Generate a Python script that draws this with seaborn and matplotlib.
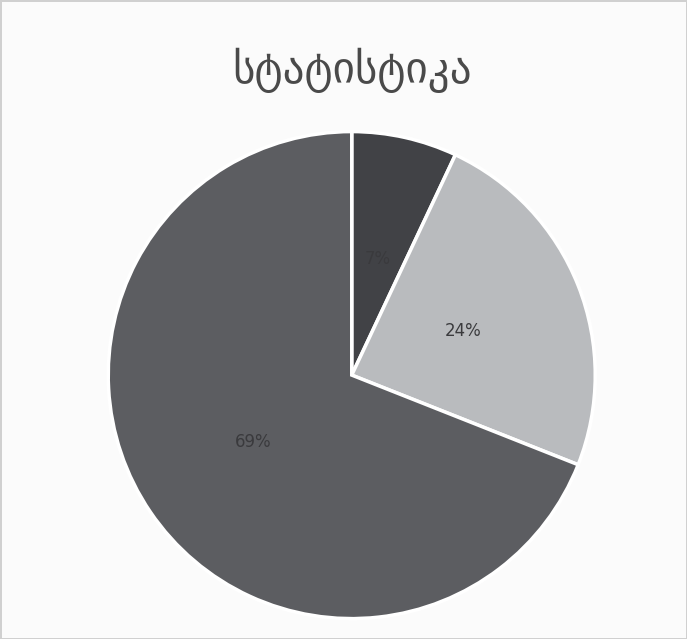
import matplotlib
matplotlib.use("Agg")
import matplotlib.pyplot as plt
import seaborn as sns
import numpy as np

# slice data, clockwise from 12 o'clock
values = [7, 24, 69]
pct_labels = ["7%", "24%", "69%"]
colors = ["#414246", "#b9bbbe", "#5c5d61"]
title = "სტატისტიკა"

sns.set_theme(style="white")
plt.rcParams['font.family'] = ['DejaVu Sans']

fig = plt.figure(figsize=(6.87, 6.39), dpi=100)
fig.patch.set_facecolor("#fbfbfb")
fig.patch.set_edgecolor("#d0d0d0")
fig.patch.set_linewidth(2)

ax = fig.add_axes([0.154, 0.028, 0.716, 0.770])
wedges, texts = ax.pie(values, colors=colors, startangle=90, counterclock=False,
                       wedgeprops=dict(edgecolor="white", linewidth=2.5))
ax.set_aspect("equal")
ax.set_xlim(-1.01, 1.01)
ax.set_ylim(-1.01, 1.01)

# percentage labels, placed halfway along each slice
for w, lab in zip(wedges, pct_labels):
    ang = np.deg2rad((w.theta1 + w.theta2) / 2)
    ax.text(0.49 * np.cos(ang), 0.49 * np.sin(ang), lab, ha="center", va="center",
            fontsize=12, color="#3a3a3d")

fig.text(0.512, 0.89, title, ha="center", va="center", fontsize=31, color="#4a4a4a")

fig.savefig("out.png", dpi=100, facecolor=fig.get_facecolor(), edgecolor=fig.get_edgecolor())
